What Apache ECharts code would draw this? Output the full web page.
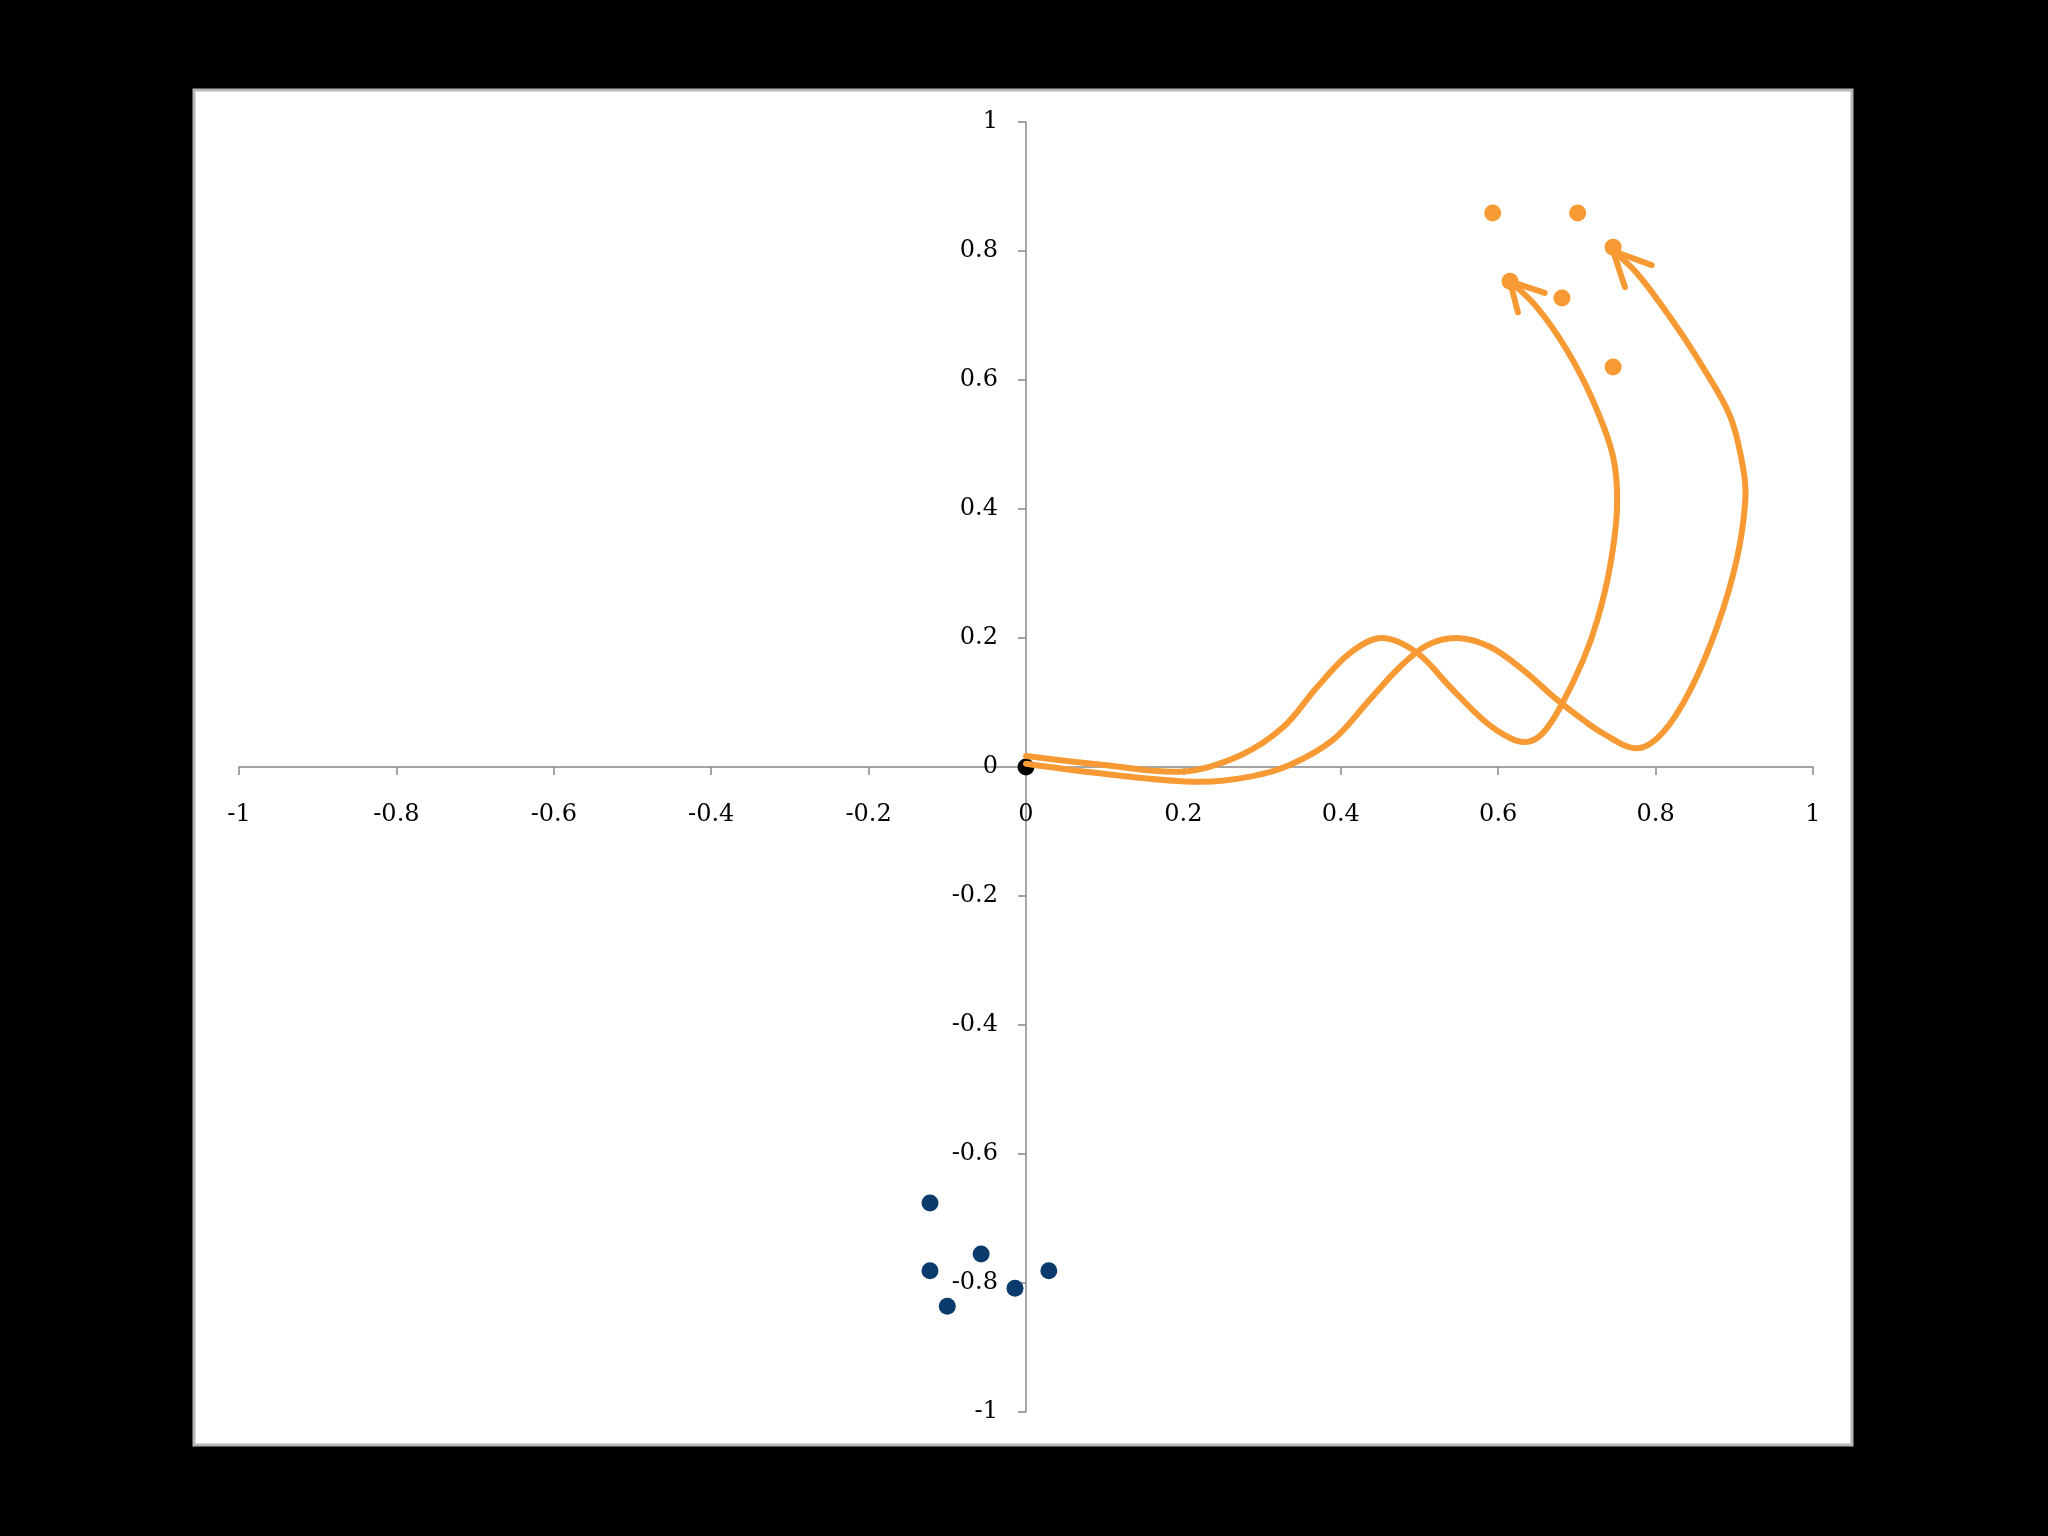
<!DOCTYPE html>
<html>
<head>
<meta charset="utf-8">
<script src="https://cdn.jsdelivr.net/npm/echarts@6/dist/echarts.min.js"></script>
<style>
html,body{margin:0;padding:0;background:#000;}
#chart{width:2048px;height:1536px;}
</style>
</head>
<body>
<div id="chart"></div>
<script>
// Axis ticks
const xTicks = [-1, -0.8, -0.6, -0.4, -0.2, 0, 0.2, 0.4, 0.6, 0.8, 1];
const yTicks = [-1, -0.8, -0.6, -0.4, -0.2, 0, 0.2, 0.4, 0.6, 0.8, 1];

// Scatter groups
const originPoint = [[0, 0]];
const orangePoints = [[0.593, 0.859], [0.701, 0.859], [0.746, 0.806], [0.615, 0.753], [0.681, 0.727], [0.746, 0.620]];
const navyPoints = [[-0.122, -0.676], [-0.057, -0.755], [-0.122, -0.781], [0.029, -0.781], [-0.014, -0.808], [-0.100, -0.836]];

// Curved arrow paths
const curveA = [[0, 0.017], [0.100, 0.003], [0.200, -0.007], [0.272, 0.018], [0.327, 0.062], [0.370, 0.124], [0.412, 0.177],
  [0.452, 0.200], [0.497, 0.177], [0.539, 0.124], [0.581, 0.073], [0.615, 0.045], [0.637, 0.039], [0.657, 0.053],
  [0.679, 0.093], [0.708, 0.166], [0.726, 0.228], [0.742, 0.310], [0.751, 0.403], [0.746, 0.481], [0.720, 0.569],
  [0.687, 0.647], [0.649, 0.713], [0.615, 0.753]];
const curveB = [[0, 0.005], [0.109, -0.012], [0.220, -0.023], [0.285, -0.015], [0.335, 0.003], [0.390, 0.042], [0.433, 0.099],
  [0.475, 0.155], [0.510, 0.189], [0.548, 0.200], [0.590, 0.186], [0.632, 0.150], [0.675, 0.104], [0.708, 0.073],
  [0.732, 0.053], [0.776, 0.029], [0.809, 0.053], [0.844, 0.119], [0.878, 0.217], [0.903, 0.321], [0.914, 0.414],
  [0.911, 0.465], [0.895, 0.543], [0.860, 0.620], [0.818, 0.698], [0.776, 0.766], [0.746, 0.800]];
// Arrow heads (barb, tip, barb)
const arrowA = [[0.625, 0.705], [0.615, 0.753], [0.659, 0.735]];
const arrowB = [[0.761, 0.744], [0.746, 0.800], [0.795, 0.778]];

const ORANGE = '#F89A34';
const NAVY = '#0B3A6C';
const GRID = {left: 239, right: 235, top: 122, bottom: 124};
const W = 2048, H = 1536;
const gridW = W - GRID.left - GRID.right;
const gridH = H - GRID.top - GRID.bottom;

const chart = echarts.init(document.getElementById('chart'), null, {renderer: 'canvas'});

const axisCommon = {
  type: 'value',
  min: xTicks[0],
  max: xTicks[xTicks.length - 1],
  interval: 0.2,
  splitLine: {show: false},
  axisLine: {show: true, onZero: false, lineStyle: {color: '#888888', width: 1.5}},
  axisTick: {show: true, length: 8, lineStyle: {color: '#888888', width: 1.5}},
  axisLabel: {
    color: '#000000',
    fontFamily: 'DejaVu Serif',
    fontSize: 24,
    formatter: v => String(Math.round(v * 10) / 10)
  }
};

// One smooth path through all points of a series, positioned by the axes' scales
const pathSeries = (data, smooth) => ({
  type: 'custom',
  data: data,
  z: 3,
  silent: true,
  clip: false,
  renderItem: (params, api) => {
    if (params.dataIndexInside !== 0) return null;
    const pts = [];
    for (let i = 0; i < params.dataInsideLength; i++) {
      pts.push(api.coord([api.value(0, i), api.value(1, i)]));
    }
    return {
      type: 'polyline',
      shape: {points: pts, smooth: smooth},
      style: {stroke: ORANGE, fill: null, lineWidth: 6, lineCap: 'round', lineJoin: 'round'}
    };
  }
});

chart.setOption({
  animation: false,
  backgroundColor: '#000000',
  graphic: [{
    type: 'rect',
    z: -10,
    shape: {x: 194, y: 90, width: 1658, height: 1355},
    style: {fill: '#ffffff', stroke: '#b8b8b8', lineWidth: 3}
  }],
  grid: Object.assign({containLabel: false}, GRID),
  xAxis: Object.assign({}, axisCommon, {
    position: 'bottom',
    offset: -gridH / 2,
    axisLabel: Object.assign({}, axisCommon.axisLabel, {margin: 36})
  }),
  yAxis: Object.assign({}, axisCommon, {
    position: 'left',
    offset: -gridW / 2,
    min: yTicks[0],
    max: yTicks[yTicks.length - 1],
    axisLabel: Object.assign({}, axisCommon.axisLabel, {margin: 28})
  }),
  series: [
    {type: 'scatter', data: originPoint, symbolSize: 17, z: 2, itemStyle: {color: '#000000', opacity: 1}},
    pathSeries(curveA, 0.35),
    pathSeries(curveB, 0.35),
    pathSeries(arrowA, 0),
    pathSeries(arrowB, 0),
    {type: 'scatter', data: orangePoints, symbolSize: 17, z: 4, itemStyle: {color: ORANGE, opacity: 1}},
    {type: 'scatter', data: navyPoints, symbolSize: 17, z: 4, itemStyle: {color: NAVY, opacity: 1}}
  ]
});
</script>
</body>
</html>
